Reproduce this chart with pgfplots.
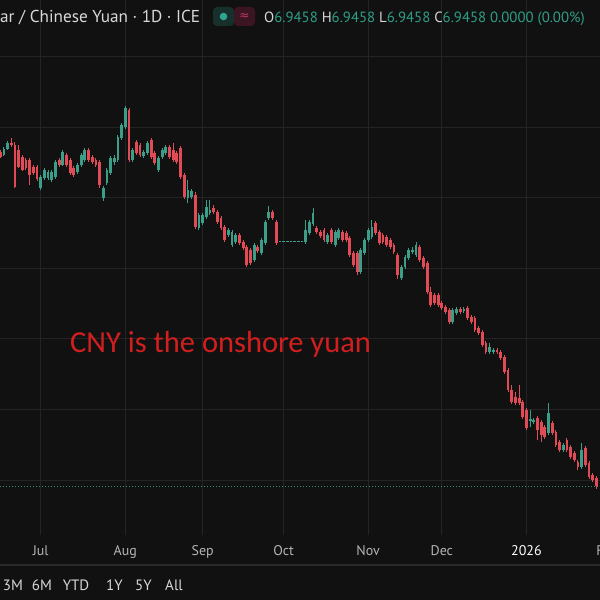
\documentclass[border=0pt]{standalone}
\usepackage{fontspec}
\setmainfont{PT Sans}
\newfontfamily\carlito{Carlito}
\newfontfamily\dejavu{DejaVu Sans}
\usepackage{pgfplots}
\usepackage{pgfplotstable}
\pgfplotsset{compat=1.18}
\definecolor{bgc}{HTML}{111111}
\definecolor{gridc}{HTML}{242424}
\definecolor{upc}{HTML}{3B9E88}
\definecolor{dnc}{HTML}{E04B55}
\definecolor{txtc}{HTML}{D8D8D8}
\definecolor{labc}{HTML}{B4B4B4}
\definecolor{valc}{HTML}{2E9E86}
\definecolor{annc}{HTML}{D21E1E}
\definecolor{sepc}{HTML}{2A2A2A}
\definecolor{lastc}{HTML}{3A8F7E}
\definecolor{pillL}{HTML}{17302B}
\definecolor{pillR}{HTML}{3B1622}
\definecolor{dotc}{HTML}{2EA68F}
\definecolor{pinkc}{HTML}{C23A5E}

% up (green) candles: day index, open, high, low, close
\pgfplotstableread{
x o h l c
-10 7.1803 7.1859 7.1796 7.1845
-9 7.1845 7.1902 7.1838 7.1888
0 7.1569 7.1661 7.1555 7.1647
1 7.1640 7.1711 7.1626 7.1696
2 7.1640 7.1696 7.1626 7.1682
3 7.1626 7.1696 7.1611 7.1682
4 7.1647 7.1767 7.1633 7.1753
6 7.1732 7.1838 7.1725 7.1824
10 7.1682 7.1746 7.1668 7.1732
11 7.1732 7.1817 7.1718 7.1803
12 7.1767 7.1852 7.1753 7.1838
17 7.1498 7.1583 7.1477 7.1569
18 7.1604 7.1711 7.1590 7.1696
19 7.1675 7.1796 7.1661 7.1781
20 7.1753 7.1803 7.1732 7.1781
21 7.1767 7.1944 7.1753 7.1930
22 7.1923 7.2029 7.1909 7.2015
23 7.2001 7.2150 7.1987 7.2135
25 7.1767 7.1852 7.1753 7.1838
28 7.1796 7.1838 7.1781 7.1824
29 7.1817 7.1902 7.1803 7.1888
32 7.1696 7.1796 7.1682 7.1781
33 7.1788 7.1852 7.1774 7.1838
34 7.1817 7.1873 7.1803 7.1859
40 7.1498 7.1626 7.1463 7.1555
41 7.1505 7.1562 7.1491 7.1548
43 7.1286 7.1392 7.1272 7.1378
44 7.1321 7.1392 7.1307 7.1378
45 7.1364 7.1484 7.1349 7.1434
46 7.1392 7.1484 7.1378 7.1413
51 7.1236 7.1286 7.1222 7.1272
52 7.1165 7.1272 7.1151 7.1257
53 7.1187 7.1250 7.1172 7.1236
58 7.1059 7.1180 7.1045 7.1165
60 7.1109 7.1215 7.1095 7.1201
61 7.1180 7.1342 7.1165 7.1328
62 7.1357 7.1442 7.1342 7.1399
65 7.1187 7.1194 7.1187 7.1194
66 7.1187 7.1194 7.1187 7.1194
67 7.1187 7.1194 7.1187 7.1194
68 7.1187 7.1194 7.1187 7.1194
69 7.1187 7.1194 7.1187 7.1194
70 7.1187 7.1194 7.1187 7.1194
71 7.1187 7.1194 7.1187 7.1194
72 7.1187 7.1342 7.1172 7.1272
73 7.1250 7.1342 7.1236 7.1328
74 7.1314 7.1427 7.1300 7.1392
78 7.1187 7.1250 7.1172 7.1236
80 7.1165 7.1272 7.1151 7.1257
81 7.1215 7.1286 7.1201 7.1272
87 7.0974 7.1144 7.0960 7.1130
88 7.1109 7.1215 7.1095 7.1201
89 7.1201 7.1286 7.1187 7.1272
90 7.1222 7.1342 7.1208 7.1293
98 7.0932 7.1024 7.0918 7.1010
99 7.1010 7.1095 7.0995 7.1080
100 7.1073 7.1144 7.1059 7.1130
101 7.1116 7.1151 7.1102 7.1130
102 7.1095 7.1187 7.1080 7.1165
112 7.0620 7.0719 7.0606 7.0705
113 7.0684 7.0726 7.0670 7.0712
115 7.0698 7.0726 7.0684 7.0712
122 7.0408 7.0472 7.0394 7.0443
123 7.0408 7.0436 7.0394 7.0422
133 6.9919 6.9997 6.9877 6.9934
134 6.9912 6.9941 6.9898 6.9926
138 6.9834 7.0047 6.9820 6.9976
142 6.9714 6.9764 6.9700 6.9749
147 6.9594 6.9764 6.9580 6.9714
}\upt

% down (red) candles: day index, open, high, low, close
\pgfplotstableread{
x o h l c
-11 7.1824 7.1838 7.1781 7.1788
-8 7.1888 7.1923 7.1859 7.1873
-7 7.1873 7.1895 7.1569 7.1576
-6 7.1838 7.1873 7.1711 7.1718
-5 7.1788 7.1803 7.1689 7.1696
-4 7.1767 7.1781 7.1696 7.1711
-3 7.1767 7.1781 7.1590 7.1661
-2 7.1718 7.1732 7.1661 7.1675
-1 7.1718 7.1732 7.1619 7.1633
5 7.1767 7.1781 7.1718 7.1732
7 7.1803 7.1817 7.1718 7.1732
8 7.1767 7.1781 7.1661 7.1675
9 7.1711 7.1725 7.1647 7.1661
13 7.1838 7.1852 7.1753 7.1767
14 7.1788 7.1803 7.1739 7.1753
15 7.1767 7.1781 7.1718 7.1732
16 7.1753 7.1767 7.1569 7.1590
24 7.2121 7.2135 7.1753 7.1767
26 7.1895 7.1909 7.1803 7.1817
27 7.1873 7.1888 7.1788 7.1803
30 7.1909 7.1923 7.1774 7.1788
31 7.1817 7.1831 7.1732 7.1746
35 7.1859 7.1873 7.1774 7.1788
36 7.1838 7.1888 7.1753 7.1767
37 7.1817 7.1831 7.1739 7.1753
38 7.1852 7.1866 7.1633 7.1647
39 7.1661 7.1675 7.1491 7.1505
42 7.1519 7.1541 7.1279 7.1293
47 7.1427 7.1449 7.1385 7.1399
48 7.1399 7.1413 7.1314 7.1328
49 7.1357 7.1371 7.1272 7.1286
50 7.1293 7.1307 7.1187 7.1201
54 7.1236 7.1250 7.1165 7.1180
55 7.1187 7.1201 7.1130 7.1144
56 7.1151 7.1165 7.1010 7.1024
57 7.1130 7.1144 7.1024 7.1038
59 7.1151 7.1165 7.1109 7.1123
63 7.1399 7.1413 7.1342 7.1357
64 7.1328 7.1342 7.1165 7.1180
75 7.1286 7.1300 7.1243 7.1257
76 7.1257 7.1272 7.1215 7.1229
77 7.1272 7.1286 7.1187 7.1201
79 7.1272 7.1286 7.1172 7.1187
82 7.1257 7.1272 7.1187 7.1201
83 7.1250 7.1265 7.1187 7.1201
84 7.1215 7.1229 7.1080 7.1095
85 7.1109 7.1123 7.1010 7.1024
86 7.1109 7.1123 7.0953 7.0974
91 7.1321 7.1335 7.1236 7.1250
92 7.1257 7.1272 7.1165 7.1180
93 7.1236 7.1250 7.1172 7.1187
94 7.1222 7.1236 7.1151 7.1165
95 7.1201 7.1215 7.1137 7.1151
96 7.1165 7.1180 7.1102 7.1116
97 7.1095 7.1109 7.0925 7.0953
103 7.1151 7.1165 7.1045 7.1059
104 7.1073 7.1088 7.0995 7.1010
105 7.1038 7.1052 7.0818 7.0833
106 7.0833 7.0868 7.0726 7.0741
107 7.0811 7.0826 7.0741 7.0755
108 7.0811 7.0826 7.0726 7.0741
109 7.0755 7.0769 7.0705 7.0719
110 7.0726 7.0741 7.0677 7.0691
111 7.0705 7.0719 7.0606 7.0620
114 7.0712 7.0726 7.0677 7.0691
116 7.0719 7.0734 7.0634 7.0649
117 7.0656 7.0670 7.0606 7.0620
118 7.0649 7.0663 7.0549 7.0564
119 7.0578 7.0592 7.0528 7.0542
120 7.0549 7.0564 7.0443 7.0457
121 7.0472 7.0486 7.0394 7.0408
124 7.0422 7.0436 7.0394 7.0408
125 7.0408 7.0422 7.0351 7.0365
126 7.0372 7.0387 7.0252 7.0266
127 7.0280 7.0295 7.0125 7.0139
128 7.0139 7.0174 7.0040 7.0054
129 7.0089 7.0125 7.0033 7.0047
130 7.0082 7.0174 7.0033 7.0047
131 7.0054 7.0068 6.9934 6.9948
132 6.9997 7.0011 6.9856 6.9870
135 6.9941 6.9955 6.9785 6.9856
136 6.9912 6.9926 6.9771 6.9820
137 6.9877 6.9891 6.9792 6.9806
139 6.9905 6.9919 6.9820 6.9834
140 6.9841 6.9856 6.9735 6.9749
141 6.9771 6.9785 6.9700 6.9714
143 6.9785 6.9799 6.9700 6.9714
144 6.9735 6.9749 6.9650 6.9664
145 6.9693 6.9707 6.9629 6.9643
146 6.9629 6.9643 6.9572 6.9594
148 6.9728 6.9742 6.9594 6.9608
149 6.9622 6.9636 6.9509 6.9523
150 6.9537 6.9551 6.9487 6.9502
151 6.9516 6.9530 6.9438 6.9458
}\dnt

\begin{document}
\begin{tikzpicture}
\useasboundingbox (0,-65pt) rectangle (600pt,535pt);
\clip (0,-65pt) rectangle (600pt,535pt);
\fill[bgc] (0,-65pt) rectangle (600pt,535pt);
\begin{axis}[
  at={(0,0)}, anchor=south west,
  scale only axis, width=600pt, height=535pt,
  xmin=-11.06, xmax=151.98, ymin=6.9112, ymax=7.29,
  axis line style={draw=none},
  tick style={draw=none},
  xtick={0,23,44,66,89,109,132},
  xticklabels={Jul,Aug,Sep,Oct,Nov,Dec,{\textcolor{white}{2026}}},
  ytick={6.95,7.00,7.05,7.10,7.15,7.20,7.25},
  yticklabels={},
  grid=major,
  major grid style={draw=gridc, line width=1pt},
  xticklabel style={font=\fontsize{14}{14}\selectfont, text=labc, anchor=base, inner sep=0pt, yshift=-20pt},
  candle/.style={forget plot, draw=none, mark=none, error bars/.cd, y dir=minus, y explicit, error mark=none},
]
\addplot[forget plot, draw=lastc, line width=1pt, dash pattern=on 1pt off 2pt] coordinates {(-11.06,6.9458) (151.98,6.9458)};
% wicks
\addplot[candle, error bar style={draw=upc, line width=1pt}]
  table[x=x, y=h, y error minus expr=\thisrow{h}-\thisrow{l}] {\upt};
\addplot[candle, error bar style={draw=dnc, line width=1pt}]
  table[x=x, y=h, y error minus expr=\thisrow{h}-\thisrow{l}] {\dnt};
% bodies
\addplot[candle, error bar style={draw=upc, line width=2.8pt}]
  table[x=x, y=c, y error minus expr=\thisrow{c}-\thisrow{o}] {\upt};
\addplot[candle, error bar style={draw=dnc, line width=2.8pt}]
  table[x=x, y=o, y error minus expr=\thisrow{o}-\thisrow{c}] {\dnt};
\end{axis}
% time-axis extra label and separator
\node[anchor=base, inner sep=0pt, text=labc, font=\fontsize{14}{14}\selectfont] at (607.4pt,-20pt) {Feb};
\draw[sepc, line width=2pt] (0,-30pt) -- (600pt,-30pt);
% header
\node[anchor=base west, inner sep=0pt, text=txtc, font=\fontsize{17.2}{17.2}\selectfont] at (0,512pt) {ar / Chinese Yuan · 1D · ICE};
\fill[pillL, rounded corners=4pt] (213pt,509pt) rectangle (234pt,528pt);
\fill[pillR, rounded corners=4pt] (234pt,509pt) rectangle (255pt,528pt);
\fill[dotc] (223.5pt,518.5pt) circle (3.8pt);
\node[inner sep=0pt, text=pinkc, font=\dejavu\fontsize{12}{12}\selectfont] at (244.5pt,518.5pt) {≈};
\node[anchor=base west, inner sep=0pt, font=\fontsize{14.8}{14.8}\selectfont] at (264pt,512pt)
  {\textcolor{txtc}{O}\textcolor{valc}{6.9458} \textcolor{txtc}{H}\textcolor{valc}{6.9458} \textcolor{txtc}{L}\textcolor{valc}{6.9458} \textcolor{txtc}{C}\textcolor{valc}{6.9458} \textcolor{valc}{0.0000 (0.00\%)}};
% annotation
\node[anchor=base west, inner sep=0pt, text=annc, font=\carlito\fontsize{30.5}{30.5}\selectfont] at (70pt,182pt) {CNY is the onshore yuan};
% range buttons
\begin{scope}[every node/.style={anchor=base, inner sep=0pt, text=txtc, font=\fontsize{15}{15}\selectfont}]
\node at (13pt,-55.7pt) {3M};
\node at (42pt,-55.7pt) {6M};
\node at (76pt,-55.7pt) {YTD};
\node at (114.5pt,-55.7pt) {1Y};
\node at (143.5pt,-55.7pt) {5Y};
\node at (174pt,-55.7pt) {All};
\end{scope}
\end{tikzpicture}
\end{document}
